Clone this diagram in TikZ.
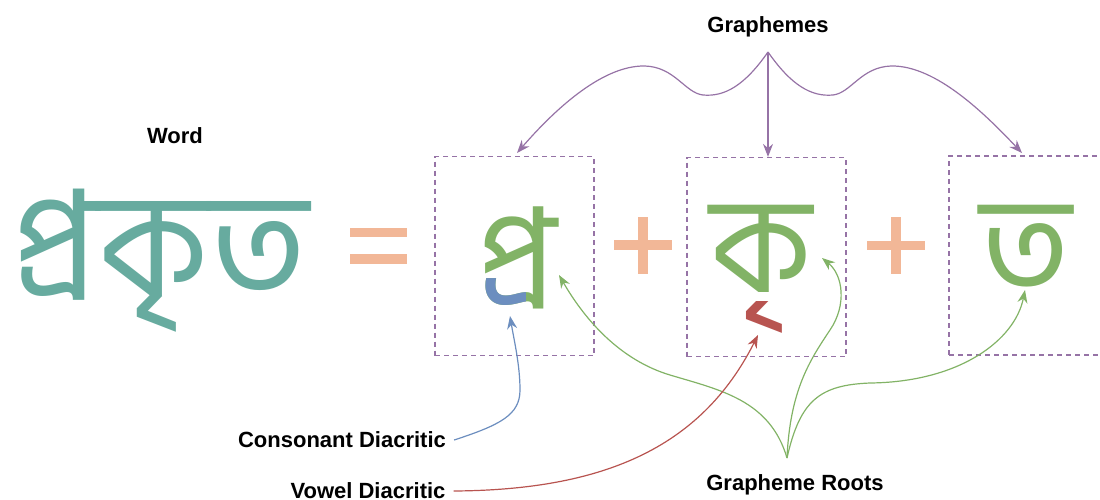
\documentclass[tikz,border=0pt]{standalone}
\usepackage{fontspec}
\setmainfont{Liberation Sans}
\newfontfamily\bnfont[Script=Bengali]{Hind Siliguri}
\usetikzlibrary{arrows.meta,calc}

\definecolor{wordteal}{HTML}{67AB9F}
\definecolor{opsalmon}{HTML}{F2B797}
\definecolor{rootgreen}{HTML}{82B366}
\definecolor{consblue}{HTML}{6C8EBF}
\definecolor{vowelred}{HTML}{B85450}
\definecolor{graphpurple}{HTML}{9673A6}

\tikzset{
  lbl/.style={font=\fontsize{22}{26}\selectfont\bfseries, inner sep=0pt},
  gbox/.style={draw=graphpurple, dash pattern=on 5pt off 4pt, line width=1.2pt,
    minimum width=159pt, minimum height=199pt, inner sep=0pt},
  glyph/.style={font=\bnfont\fontsize{136}{136}\selectfont, inner sep=0pt, anchor=base west},
  conn/.style={line width=1.2pt, -{Stealth[length=13pt,width=10pt]}},
  opbar/.style={opsalmon, line width=9.5pt},
}

\begin{document}
\begin{tikzpicture}[x=1pt,y=-1pt]
\useasboundingbox (0,0) rectangle (1100,499);

% labels
\node[lbl] (wordlbl) at (175,136) {Word};
\node[lbl] (graphlbl) at (768,27) {Graphemes};
\node[lbl] (conslbl) at (342,440) {Consonant Diacritic};
\node[lbl] (vowellbl) at (368,491) {Vowel Diacritic};
\node[lbl] (rootlbl) at (795,485) {Grapheme Roots};

% the word
\node[glyph, wordteal, anchor=base, font=\bnfont\fontsize{148}{148}\selectfont] (word) at (160,296) {প্রকৃত};

% = and +
\draw[opbar] (350,232.5) -- (407,232.5);
\draw[opbar] (350,259) -- (407,259);
\draw[opbar] (614,245) -- (672,245);
\draw[opbar] (643,217) -- (643,274);
\draw[opbar] (867,245.5) -- (925,245.5);
\draw[opbar] (896,217) -- (896,274);

% grapheme boxes
\node[gbox] (gbox1) at (514.5,256) {};
\node[gbox] (gbox2) at (766.5,257) {};
\node[gbox] (gbox3) at (1028.5,255.5) {};

% roots and diacritics
\node[glyph, rootgreen] (pa) at (476,305) {প্র};
\begin{scope}
\clip (470,278) rectangle (525,345);
\node[glyph, consblue] (raphala) at (476,305) {প্র};
\end{scope}
\begin{scope}[yshift=-8pt]
\clip (690,293) rectangle (845,360);
\node[glyph, vowelred] (rikar) at (710,292) {কৃ};
\end{scope}
\node[glyph, rootgreen] (ka) at (710,292) {ক};
\node[glyph, rootgreen] (ta) at (980,292) {ত};

% connector ends
\coordinate (gapex) at (768,52);
\coordinate (rapex) at (787,458);
\coordinate (patip) at (559,275);
\coordinate (katip) at (822,258);
\coordinate (tatip) at (1025,290);
\coordinate (raphtip) at (510,316);
\coordinate (rikrtip) at (758,335);

% graphemes
\draw[conn, graphpurple] (gapex) .. controls (745,85) and (725,97) .. (703,95)
  .. controls (685,93) and (675,67) .. (645,66) .. controls (600,65) and (550,115) .. (517,153);
\draw[conn, graphpurple] (gapex) -- (gapex |- gbox2.north);
\draw[conn, graphpurple] (gapex) .. controls (791,85) and (811,97) .. (833,95)
  .. controls (851,93) and (861,67) .. (891,66) .. controls (936,65) and (986,115) .. (1022,153);

% grapheme roots
\draw[conn, rootgreen] (rapex) .. controls (770,400) and (720,390) .. (670,375)
  .. controls (620,360) and (585,320) .. (patip);
\draw[conn, rootgreen] (rapex) .. controls (790,390) and (810,360) .. (830,330)
  .. controls (847,305) and (843,275) .. (katip);
\draw[conn, rootgreen] (rapex) .. controls (800,400) and (820,385) .. (870,383)
  .. controls (960,382) and (1015,340) .. (tatip);

% diacritics
\draw[conn, consblue] (conslbl.east) ++(8,0) .. controls (500,425) and (520,415) .. (520,390)
  .. controls (520,365) and (514,340) .. (raphtip);
\draw[conn, vowelred] (vowellbl.east) ++(8,0) .. controls (600,490) and (700,450) .. (rikrtip);

\end{tikzpicture}
\end{document}
